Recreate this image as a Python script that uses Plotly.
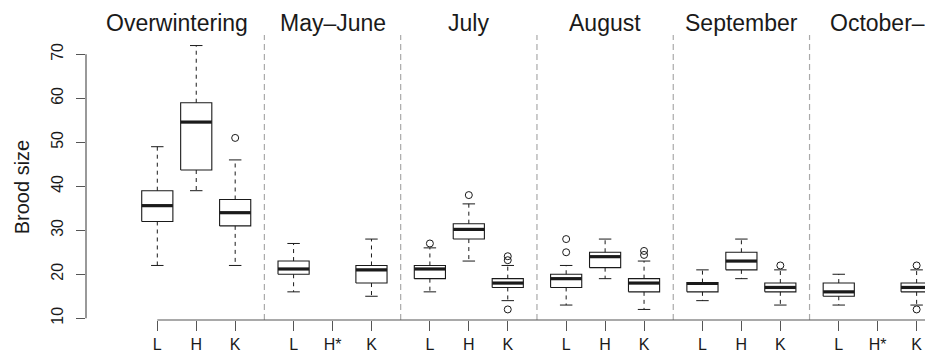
import plotly.graph_objects as go

# ---- data ----
seasons = ["Overwintering", "May\u2013June", "July", "August", "September", "October\u2013"]
tick_labels = ["L", "H", "K", "L", "H*", "K", "L", "H", "K",
               "L", "H", "K", "L", "H", "K", "L", "H*", "K"]
whisk_lo = [22, 39, 22, 16, None, 15, 16, 23, 14, 13, 19, 12, 14, 19, 13, 13, None, 13]
q1       = [32, 43.7, 31, 20, None, 18, 19, 28, 17, 17, 21.5, 16, 16, 21, 16, 15, None, 16]
median   = [35.6, 54.6, 34, 21.2, None, 21, 21.2, 30.2, 18, 19, 24, 18, 17.9, 23, 17, 16, None, 17]
q3       = [39, 59, 37, 23, None, 22, 22, 31.5, 19, 20, 25, 19, 18.1, 25, 18, 18, None, 18]
whisk_hi = [49, 72, 46, 27, None, 28, 26, 36, 22, 22, 28, 23, 21, 28, 21, 20, None, 21]
outliers = [[], [], [51], [], [], [], [27], [38], [24.1, 23.2, 12], [28, 25], [], [25.3, 24.4],
            [], [], [22], [], [], [22, 12]]
y_ticks = [10, 20, 30, 40, 50, 60, 70]

# ---- layout helpers ----
n_groups = 3
gap = 3.5
positions = [1 + gap * (i // n_groups) + (i % n_groups) for i in range(len(tick_labels))]
half_box = 0.4
half_cap = 0.16

FONT = "Liberation Sans, Arial, Helvetica, sans-serif"
INK = "#1a1a1a"
AX = "#555555"

bx, by, mx, my, wx, wy, cx, cy, ox, oy = ([] for _ in range(10))
for i, p in enumerate(positions):
    if median[i] is None:
        continue
    l, r = p - half_box, p + half_box
    bx += [l, r, r, l, l, None]
    by += [q1[i], q1[i], q3[i], q3[i], q1[i], None]
    mx += [l, r, None]
    my += [median[i], median[i], None]
    wx += [p, p, None, p, p, None]
    wy += [q3[i], whisk_hi[i], None, q1[i], whisk_lo[i], None]
    cx += [p - half_cap, p + half_cap, None, p - half_cap, p + half_cap, None]
    cy += [whisk_hi[i], whisk_hi[i], None, whisk_lo[i], whisk_lo[i], None]
    for o in outliers[i]:
        ox.append(p)
        oy.append(o)

fig = go.Figure()
fig.add_trace(go.Scatter(x=wx, y=wy, mode="lines",
                         line=dict(color=INK, width=1, dash="4px,4px"), hoverinfo="skip"))
fig.add_trace(go.Scatter(x=cx, y=cy, mode="lines",
                         line=dict(color=INK, width=1), hoverinfo="skip"))
fig.add_trace(go.Scatter(x=bx, y=by, mode="lines",
                         line=dict(color=INK, width=1.1), hoverinfo="skip"))
fig.add_trace(go.Scatter(x=mx, y=my, mode="lines",
                         line=dict(color=INK, width=3.2), hoverinfo="skip"))
fig.add_trace(go.Scatter(x=ox, y=oy, mode="markers",
                         marker=dict(symbol="circle-open", size=7, color=INK,
                                     line=dict(width=1, color=INK)),
                         hoverinfo="skip"))

x_lo, x_hi = -0.831, 20.715
y_lo, y_hi = 9.6, 74.4

shapes = []
# season dividers
for s in range(1, len(seasons)):
    xd = positions[s * n_groups] - 0.75
    shapes.append(dict(type="line", xref="x", yref="paper", x0=xd, x1=xd, y0=0, y1=1,
                       line=dict(color="#aaaaaa", width=1.2, dash="6px,4px")))
# R-style axis lines
shapes.append(dict(type="line", xref="x", yref="paper", x0=positions[0], x1=x_hi,
                   y0=0, y1=0, line=dict(color=AX, width=1.2)))
shapes.append(dict(type="line", xref="paper", yref="y", x0=0, x1=0,
                   y0=y_ticks[0], y1=y_ticks[-1], line=dict(color=AX, width=1.2)))

annotations = []
for s, name in enumerate(seasons):
    xc = positions[s * n_groups + 1]
    if s == 0:
        xc -= 0.5  # first title sits left of centre in the original
    annotations.append(dict(text=name, x=xc, xref="x",
                            y=1.042, yref="paper", xanchor="center", yanchor="middle",
                            showarrow=False, font=dict(family=FONT, size=23, color=INK)))
annotations.append(dict(text="Brood size", textangle=-90, x=-0.0763, xref="paper",
                        y=(y_ticks[0] + y_ticks[-1]) / 2, yref="y",
                        xanchor="center", yanchor="middle", showarrow=False,
                        font=dict(family=FONT, size=20, color=INK)))

fig.update_layout(
    width=925, height=352,
    margin=dict(l=86, r=0, t=35, b=32),
    paper_bgcolor="white", plot_bgcolor="white",
    showlegend=False,
    shapes=shapes, annotations=annotations,
    font=dict(family=FONT, color=INK),
)
fig.update_xaxes(range=[x_lo, x_hi], tickvals=positions, ticktext=tick_labels,
                 ticks="outside", ticklen=10, tickcolor=AX, tickwidth=1.2,
                 showline=False, showgrid=False, zeroline=False,
                 tickfont=dict(family=FONT, size=16, color=INK))
fig.update_yaxes(range=[y_lo, y_hi], tickvals=y_ticks, ticktext=[str(v) for v in y_ticks],
                 tickangle=-90, ticks="outside", ticklen=9, tickcolor=AX, tickwidth=1.2,
                 ticklabelstandoff=7,
                 showline=False, showgrid=False, zeroline=False,
                 tickfont=dict(family=FONT, size=16, color=INK))

fig.write_html("out.html")
